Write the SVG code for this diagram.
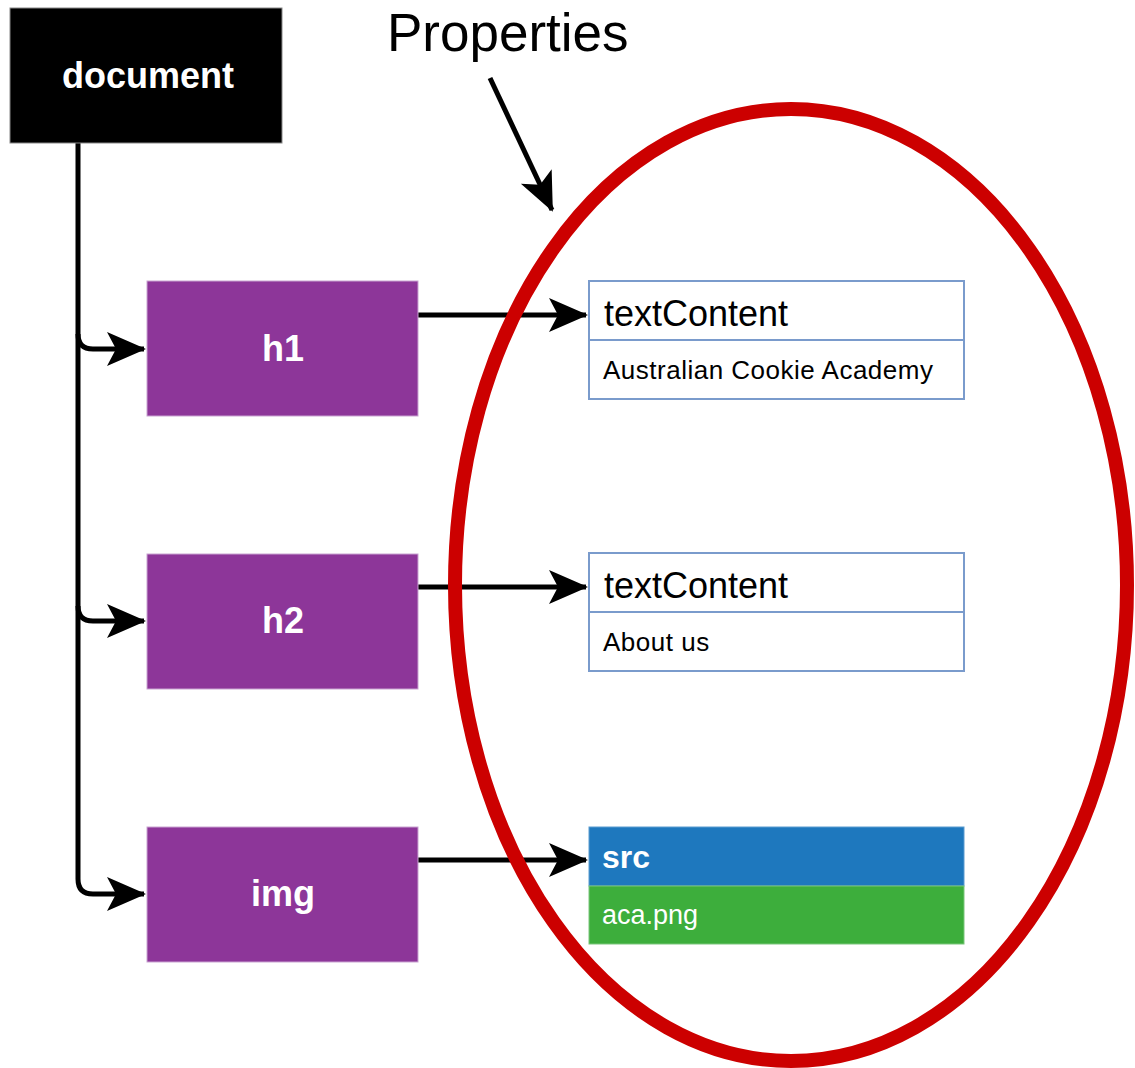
<svg xmlns="http://www.w3.org/2000/svg" width="1135" height="1068" viewBox="0 0 1135 1068">
<style>
.node{fill:#8d3699;stroke:#c9a3d1;stroke-width:1}
.lbl{font-family:"Liberation Sans",Arial,sans-serif;font-weight:bold;fill:#fff;font-size:36px;text-anchor:middle}
.conn{fill:none;stroke:#000;stroke-width:5}
.pbox{fill:#fff;stroke:#7a9bcc;stroke-width:2}
.ptitle{font-family:"Liberation Sans",Arial,sans-serif;font-size:36px;fill:#000}
.pval{font-family:"Liberation Sans",Arial,sans-serif;font-size:26px;letter-spacing:0.5px;fill:#000}
</style>
<defs>
<marker id="ah" markerUnits="userSpaceOnUse" markerWidth="40" markerHeight="40" viewBox="0 0 40 40" refX="37" refY="20" orient="auto">
<path d="M0,3 L39,20 L0,37 L9,20 Z" fill="#000"/>
</marker>
</defs>
<rect width="1135" height="1068" fill="#fff"/>
<g id="connectors">
<path class="conn" d="M78,143 V334 Q78,349 93,349 H144" marker-end="url(#ah)"/>
<path class="conn" d="M78,334 V606 Q78,621 93,621 H144" marker-end="url(#ah)"/>
<path class="conn" d="M78,606 V879 Q78,894 93,894 H144" marker-end="url(#ah)"/>
<path class="conn" d="M418,315 H586" marker-end="url(#ah)"/>
<path class="conn" d="M418,587 H586" marker-end="url(#ah)"/>
<path class="conn" d="M418,860 H586" marker-end="url(#ah)"/>
<path class="conn" d="M490,78 L552,210" stroke-width="4" marker-end="url(#ah)"/>
</g>
<g id="ellipse">
<ellipse cx="791" cy="585" rx="336" ry="476" fill="none" stroke="#cc0000" stroke-width="14"/>
</g>
<g id="properties-label">
<text x="387" y="51" font-family="Liberation Sans,Arial,sans-serif" font-size="53" fill="#000">Properties</text>
</g>
<g id="document">
<rect x="10" y="8" width="272" height="135" fill="#000" stroke="#888" stroke-width="1"/>
<text class="lbl" x="148" y="88">document</text>
</g>
<g id="h1">
<rect class="node" x="147" y="281" width="271" height="135"/>
<text class="lbl" x="283" y="361">h1</text>
</g>
<g id="h2">
<rect class="node" x="147" y="554" width="271" height="135"/>
<text class="lbl" x="283" y="633">h2</text>
</g>
<g id="img">
<rect class="node" x="147" y="827" width="271" height="135"/>
<text class="lbl" x="283" y="906">img</text>
</g>
<g id="prop-h1">
<rect class="pbox" x="589" y="281" width="375" height="59"/>
<rect class="pbox" x="589" y="340" width="375" height="59"/>
<text class="ptitle" x="604" y="326">textContent</text>
<text class="pval" x="603" y="379">Australian Cookie Academy</text>
</g>
<g id="prop-h2">
<rect class="pbox" x="589" y="553" width="375" height="59"/>
<rect class="pbox" x="589" y="612" width="375" height="59"/>
<text class="ptitle" x="604" y="598">textContent</text>
<text class="pval" x="603" y="651">About us</text>
</g>
<g id="prop-img">
<rect x="589" y="827" width="375" height="59" fill="#1e78be" stroke="#5a9bd0" stroke-width="1"/>
<rect x="589" y="886" width="375" height="58" fill="#3dae3c" stroke="#7bc67a" stroke-width="1"/>
<text x="602" y="868" font-family="Liberation Sans,Arial,sans-serif" font-weight="bold" font-size="32" fill="#fff">src</text>
<text x="602" y="924" font-family="Liberation Sans,Arial,sans-serif" font-size="27" fill="#fff">aca.png</text>
</g>
</svg>
